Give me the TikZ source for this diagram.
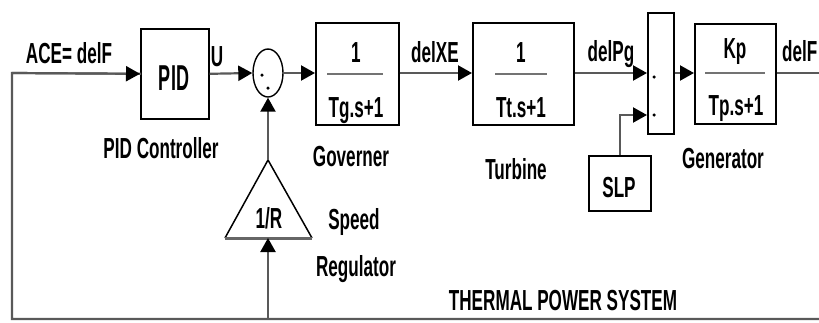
\documentclass[tikz,border=0pt]{standalone}
\usepackage{fontspec}
\usepackage{graphicx}
\setmainfont{Liberation Sans}
\usetikzlibrary{arrows.meta,shapes.geometric}
\newcommand{\sq}[1]{\scalebox{0.59}[1]{#1}}
\newcommand{\sqb}[1]{\scalebox{0.5}[1]{#1}}
\tikzset{
  blk/.style={draw=black, line width=1.6pt, inner sep=0pt, anchor=north west},
  lbl/.style={font=\fontsize{29}{31}\selectfont\bfseries, inner sep=0pt, anchor=base},
  big/.style={font=\fontsize{36}{38}\selectfont\bfseries, inner sep=0pt, anchor=base},
  wire/.style={draw=black!65, line width=2.2pt},
  conn/.style={wire, -{Triangle[length=14pt,width=15pt,color=black]}},
  fracline/.style={draw=black!55, line width=2.6pt},
  sdot/.style={fill=black, circle, inner sep=0pt, minimum size=3.5pt}
}
\begin{document}
\begin{tikzpicture}[x=1pt,y=-1pt]
\useasboundingbox (0,0) rectangle (819,322);

% blocks
\node[blk, minimum width=68pt, minimum height=90pt] (pid) at (140,28) {};
\node[big] (pidt) at (174,90) {\sqb{PID}};
\node[draw=black, line width=1.4pt, ellipse, minimum width=30pt, minimum height=48pt, inner sep=0pt] (sum) at (268,73) {};
\node[sdot] (sd1) at (262,75) {};
\node[sdot] (sd2) at (268,88) {};

\node[blk, minimum width=83pt, minimum height=102pt] (gov) at (315,22) {};
\node[lbl] (govn) at (356,62) {\sq{1}};
\draw[fracline] (327,74) -- (383,74);
\node[lbl] (govd) at (356,117) {\sq{Tg.s+1}};

\node[blk, minimum width=101pt, minimum height=102pt] (tur) at (472,22) {};
\node[lbl] (turn) at (521,62) {\sq{1}};
\draw[fracline] (495,74) -- (547,74);
\node[lbl] (turd) at (521,117) {\sq{Tt.s+1}};

\node[blk, minimum width=26pt, minimum height=121pt] (sumb) at (647,12) {};
\node[sdot] (bd1) at (654,77) {};
\node[sdot] (bd2) at (654,115) {};

\node[blk, minimum width=81pt, minimum height=100pt] (gen) at (694,23) {};
\node[lbl] (genn) at (735,58) {\sq{Kp}};
\draw[fracline] (705,73) -- (765,73);
\node[lbl] (gend) at (736,115) {\sq{Tp.s+1}};

\node[blk, minimum width=62pt, minimum height=55pt] (slp) at (588,155) {};
\node[lbl] (slpt) at (619,197) {\sq{SLP}};

% triangle (speed regulator)
\coordinate (triapex) at (268,160);
\coordinate (triR) at (312,238);
\coordinate (triL) at (225,238);
\coordinate (tribase) at (268,238);
\draw[black, line width=1.5pt, line join=miter] (triL) -- (triapex) -- (triR);
\draw[black!60, line width=3pt] (triL) -- (triR);
\node[lbl] (rtxt) at (269,228) {\sq{1/R}};

% labels
\node[lbl] (ace) at (69,63) {\sq{ACE= delF}};
\node[lbl] (ulbl) at (217,66) {\sq{U}};
\node[lbl] (dxe) at (435,62) {\sq{delXE}};
\node[lbl] (dpg) at (611,61) {\sq{delPg}};
\node[lbl, anchor=base west] (dfo) at (782,61) {\sq{delF}};
\node[lbl] (pidc) at (161,158) {\sq{PID Controller}};
\node[lbl] (govl) at (351,166) {\sq{Governer}};
\node[lbl] (turl) at (516,179) {\sq{Turbine}};
\node[lbl] (genl) at (723,168) {\sq{Generator}};
\node[lbl] (spd) at (354,229) {\sq{Speed}};
\node[lbl] (reg) at (356,276) {\sq{Regulator}};
\node[lbl] (tps) at (563,310) {\sq{THERMAL POWER SYSTEM}};

% connectors
\coordinate (brc) at (819,319);
\coordinate (blc) at (12,319);
\coordinate (ltc) at (12,73);
\coordinate (trfoot) at (268,319);
\coordinate (in1) at (647,73);
\coordinate (in2) at (647,115);
\coordinate (outR) at (819,73);

\draw[wire, line cap=rect] (brc) -- (blc) -- (ltc) -- (pid.west);
\draw[conn] (ltc) -- (pid.west);
\draw[conn] (trfoot) -- (tribase);
\draw[conn] (triapex) -- (sum.south);
\draw[conn] (pid.east) -- (sum.west);
\draw[conn] (sum.east) -- (sum.east -| gov.west);
\draw[conn] (gov.east |- ltc) -- (tur.west |- ltc);
\draw[conn] (tur.east |- ltc) -- (in1);
\draw[conn] (slp.north) |- (in2);
\draw[conn] (sumb.east |- ltc) -- (gen.west |- ltc);
\draw[wire] (gen.east |- ltc) -- (outR);
\end{tikzpicture}
\end{document}
